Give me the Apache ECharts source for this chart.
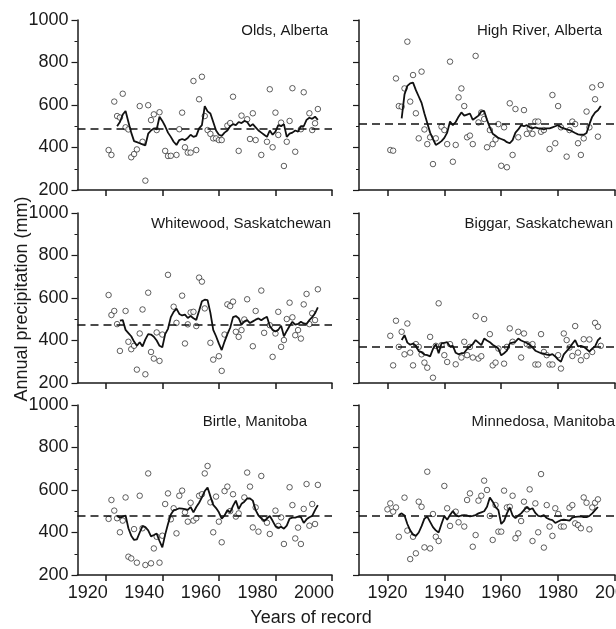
<!DOCTYPE html>
<html>
<head>
<meta charset="utf-8">
<script src="https://cdn.jsdelivr.net/npm/echarts@6/dist/echarts.min.js"></script>
<style>
  html, body { margin: 0; padding: 0; background: #fff; }
  #container { width: 616px; height: 629px; }
</style>
</head>
<body>
<div id="container"></div>
<script>
var dom = document.getElementById('container');
var myChart = echarts.init(dom, null, { renderer: 'canvas' });

// annual precipitation (mm), [year, value]
var oldsPts = [[1921,388],[1922,365],[1923,616],[1924,548],[1925,541],[1926,653],[1927,495],[1928,485],[1929,354],[1930,369],[1931,391],[1932,595],[1933,427],[1934,244],[1935,599],[1936,529],[1937,556],[1938,482],[1939,566],[1941,384],[1942,360],[1943,361],[1945,365],[1946,486],[1947,564],[1948,401],[1949,376],[1950,376],[1951,713],[1952,388],[1953,627],[1954,733],[1955,548],[1956,482],[1957,464],[1958,443],[1959,443],[1960,435],[1961,435],[1963,503],[1964,515],[1965,639],[1967,384],[1968,550],[1970,533],[1971,440],[1972,561],[1973,435],[1975,365],[1977,427],[1978,674],[1979,401],[1980,564],[1981,459],[1982,517],[1983,313],[1984,427],[1985,525],[1986,679],[1987,380],[1989,486],[1990,660],[1992,561],[1993,482],[1994,514],[1995,581]];
var highRiverPts = [[1921,388],[1922,385],[1923,725],[1924,595],[1925,592],[1926,678],[1927,898],[1928,616],[1929,741],[1930,561],[1931,443],[1932,757],[1933,485],[1934,416],[1935,448],[1936,322],[1937,443],[1939,498],[1940,482],[1941,416],[1942,804],[1943,333],[1944,412],[1945,636],[1946,678],[1947,595],[1948,448],[1949,456],[1950,416],[1951,831],[1952,518],[1953,565],[1954,534],[1955,401],[1956,482],[1957,416],[1958,438],[1959,510],[1960,314],[1961,495],[1962,307],[1963,608],[1964,365],[1965,581],[1966,448],[1968,576],[1969,464],[1970,490],[1971,464],[1972,522],[1973,522],[1974,474],[1975,482],[1977,393],[1978,647],[1979,420],[1980,595],[1981,495],[1983,357],[1984,482],[1985,522],[1986,510],[1987,420],[1988,365],[1989,443],[1990,569],[1991,495],[1992,683],[1993,627],[1994,451],[1995,694]];
var whitewoodPts = [[1921,614],[1922,520],[1923,539],[1924,477],[1925,351],[1927,539],[1928,394],[1929,359],[1930,375],[1931,263],[1932,433],[1933,546],[1934,241],[1935,625],[1936,346],[1937,315],[1938,438],[1939,304],[1940,428],[1942,709],[1944,559],[1945,483],[1947,611],[1948,386],[1949,476],[1950,532],[1951,535],[1952,468],[1953,696],[1954,677],[1955,551],[1957,389],[1958,310],[1960,326],[1961,257],[1962,428],[1963,570],[1964,562],[1965,583],[1966,441],[1967,417],[1968,449],[1969,499],[1970,594],[1972,373],[1973,539],[1975,635],[1976,436],[1978,472],[1979,323],[1980,433],[1981,535],[1982,370],[1983,402],[1984,501],[1985,578],[1986,509],[1987,425],[1988,449],[1989,409],[1990,570],[1991,619],[1992,477],[1993,528],[1994,496],[1995,641]];
var biggarPts = [[1921,422],[1922,283],[1923,493],[1924,370],[1925,441],[1926,335],[1927,480],[1928,343],[1929,283],[1930,383],[1931,370],[1932,335],[1933,296],[1934,272],[1935,417],[1936,225],[1937,375],[1938,575],[1939,378],[1940,331],[1941,299],[1942,383],[1944,288],[1946,320],[1947,394],[1948,331],[1949,370],[1950,320],[1951,515],[1952,315],[1953,326],[1954,501],[1956,430],[1957,283],[1958,296],[1959,362],[1961,291],[1962,370],[1963,457],[1964,394],[1966,441],[1967,320],[1968,433],[1969,383],[1970,375],[1971,383],[1972,287],[1973,287],[1974,430],[1975,346],[1976,331],[1977,287],[1978,287],[1980,331],[1981,268],[1982,433],[1983,402],[1984,367],[1985,327],[1986,468],[1987,343],[1988,307],[1989,406],[1990,327],[1991,405],[1992,346],[1993,483],[1994,465],[1995,375]];
var birtlePts = [[1921,464],[1922,553],[1923,503],[1924,467],[1925,401],[1926,456],[1927,565],[1928,286],[1929,278],[1930,416],[1931,258],[1932,573],[1933,420],[1934,247],[1935,678],[1936,255],[1937,325],[1938,380],[1939,258],[1940,385],[1941,534],[1942,584],[1943,462],[1944,514],[1945,396],[1946,573],[1947,597],[1948,495],[1949,451],[1950,540],[1951,456],[1952,467],[1953,573],[1954,580],[1955,678],[1956,713],[1957,542],[1958,401],[1959,569],[1960,451],[1961,354],[1962,595],[1963,616],[1964,501],[1965,580],[1966,475],[1967,490],[1969,565],[1970,682],[1971,616],[1972,424],[1973,518],[1974,404],[1975,666],[1976,464],[1977,446],[1978,393],[1980,503],[1981,431],[1982,471],[1983,346],[1985,613],[1986,529],[1987,372],[1988,423],[1989,346],[1990,511],[1991,628],[1992,432],[1993,534],[1994,440],[1995,624]];
var minnedosaPts = [[1920,509],[1921,537],[1922,498],[1923,518],[1924,380],[1926,564],[1927,409],[1928,275],[1929,380],[1930,302],[1931,545],[1932,521],[1933,330],[1934,686],[1935,325],[1936,487],[1937,380],[1938,360],[1940,619],[1941,514],[1942,431],[1944,498],[1945,448],[1947,428],[1948,553],[1949,584],[1950,333],[1951,388],[1952,550],[1953,573],[1954,644],[1955,600],[1956,478],[1957,365],[1958,529],[1959,404],[1960,404],[1961,597],[1962,518],[1963,521],[1964,573],[1965,373],[1966,396],[1967,454],[1968,545],[1969,509],[1970,603],[1971,360],[1972,537],[1973,401],[1974,675],[1975,329],[1976,529],[1977,428],[1978,384],[1979,514],[1980,487],[1981,428],[1982,428],[1984,517],[1985,529],[1986,443],[1987,435],[1988,420],[1989,565],[1990,540],[1991,415],[1992,518],[1993,540],[1994,556]];

// running means (solid line)
var oldsRun = [[1924,500],[1925,520],[1926,555],[1927,572],[1928,520],[1929,470],[1930,430],[1931,425],[1932,420],[1933,415],[1934,410],[1935,465],[1936,480],[1937,490],[1938,485],[1939,545],[1940,525],[1941,500],[1942,470],[1943,450],[1944,427],[1945,412],[1946,435],[1947,440],[1948,435],[1949,445],[1950,460],[1951,450],[1952,455],[1953,490],[1954,505],[1955,595],[1956,570],[1957,560],[1958,520],[1959,480],[1960,460],[1961,455],[1962,470],[1963,480],[1964,500],[1965,510],[1966,505],[1967,520],[1968,515],[1969,525],[1970,520],[1971,500],[1972,510],[1973,495],[1974,480],[1975,470],[1976,460],[1977,450],[1978,480],[1979,460],[1980,475],[1981,505],[1982,500],[1983,510],[1984,450],[1985,465],[1986,470],[1987,480],[1988,475],[1989,500],[1990,500],[1991,530],[1992,540],[1993,535],[1994,545],[1995,530]];
var highRiverRun = [[1925,537],[1926,650],[1927,690],[1928,702],[1929,705],[1930,670],[1931,640],[1932,610],[1933,560],[1934,515],[1935,470],[1936,440],[1937,412],[1938,420],[1939,430],[1940,445],[1941,470],[1942,522],[1943,505],[1944,520],[1945,545],[1946,565],[1947,550],[1948,555],[1949,560],[1950,530],[1951,540],[1952,550],[1953,570],[1954,572],[1955,530],[1956,495],[1957,465],[1958,455],[1959,445],[1960,440],[1961,435],[1962,425],[1963,420],[1964,435],[1965,470],[1966,485],[1967,505],[1968,500],[1969,505],[1970,495],[1971,490],[1972,495],[1973,490],[1974,490],[1975,485],[1976,490],[1977,490],[1978,495],[1979,500],[1980,505],[1981,495],[1982,490],[1983,485],[1984,482],[1985,475],[1986,468],[1987,462],[1988,460],[1989,460],[1990,468],[1991,510],[1992,545],[1993,565],[1994,575],[1995,595]];
var whitewoodRun = [[1925,493],[1926,496],[1927,450],[1928,435],[1929,420],[1930,395],[1931,375],[1932,392],[1933,372],[1934,405],[1935,430],[1936,428],[1937,418],[1938,400],[1939,375],[1940,368],[1941,430],[1942,455],[1943,510],[1944,535],[1945,550],[1946,525],[1947,518],[1948,522],[1949,506],[1950,515],[1951,505],[1952,497],[1953,540],[1954,585],[1955,592],[1956,590],[1957,530],[1958,450],[1959,420],[1960,385],[1961,355],[1962,395],[1963,430],[1964,460],[1965,510],[1966,515],[1967,505],[1968,475],[1969,490],[1970,496],[1971,482],[1972,490],[1973,498],[1974,504],[1975,495],[1976,505],[1977,512],[1978,468],[1979,450],[1980,442],[1981,450],[1982,470],[1983,420],[1984,445],[1985,468],[1986,488],[1987,475],[1988,478],[1989,488],[1990,480],[1991,478],[1992,496],[1993,510],[1994,528],[1995,556]];
var biggarRun = [[1925,402],[1926,425],[1927,390],[1928,380],[1929,386],[1930,375],[1931,350],[1932,345],[1933,334],[1934,331],[1935,325],[1936,360],[1937,383],[1938,340],[1939,386],[1940,389],[1941,392],[1942,372],[1943,375],[1944,342],[1945,335],[1946,340],[1947,342],[1948,360],[1949,372],[1950,383],[1951,402],[1952,390],[1953,378],[1954,409],[1955,400],[1956,392],[1957,380],[1958,372],[1959,362],[1960,330],[1961,340],[1962,352],[1963,386],[1964,390],[1965,394],[1966,409],[1967,400],[1968,394],[1969,388],[1970,380],[1971,368],[1972,352],[1973,346],[1974,340],[1975,338],[1976,334],[1977,331],[1978,336],[1979,325],[1980,310],[1981,300],[1982,335],[1983,350],[1984,365],[1985,385],[1986,402],[1987,372],[1988,375],[1989,370],[1990,360],[1991,348],[1992,362],[1993,372],[1994,402],[1995,414]];
var birtleRun = [[1924,478],[1925,470],[1926,475],[1927,480],[1928,420],[1929,385],[1930,365],[1931,368],[1932,400],[1933,430],[1934,425],[1935,410],[1936,382],[1937,388],[1938,395],[1939,360],[1940,330],[1941,390],[1942,440],[1943,485],[1944,505],[1945,508],[1946,514],[1947,512],[1948,510],[1949,506],[1950,520],[1951,495],[1952,520],[1953,540],[1954,565],[1955,595],[1956,612],[1957,570],[1958,530],[1959,515],[1960,495],[1961,465],[1962,480],[1963,505],[1964,495],[1965,525],[1966,550],[1967,510],[1968,535],[1969,545],[1970,560],[1971,560],[1972,550],[1973,505],[1974,480],[1975,467],[1976,455],[1977,465],[1978,478],[1979,455],[1980,430],[1981,422],[1982,427],[1983,418],[1984,432],[1985,465],[1986,470],[1987,470],[1988,475],[1989,472],[1990,445],[1991,462],[1992,472],[1993,478],[1994,505],[1995,529]];
var minnedosaRun = [[1924,482],[1925,490],[1926,480],[1927,440],[1928,410],[1929,390],[1930,384],[1931,400],[1932,430],[1933,465],[1934,475],[1935,450],[1936,425],[1937,410],[1938,400],[1939,440],[1940,478],[1941,460],[1942,482],[1943,501],[1944,482],[1945,476],[1946,480],[1947,482],[1948,480],[1949,476],[1950,478],[1951,482],[1952,490],[1953,495],[1954,500],[1955,521],[1956,565],[1957,545],[1958,520],[1959,505],[1960,440],[1961,455],[1962,490],[1963,518],[1964,480],[1965,468],[1966,480],[1967,490],[1968,505],[1969,520],[1970,508],[1971,514],[1972,492],[1973,478],[1974,476],[1975,482],[1976,468],[1977,462],[1978,458],[1979,445],[1980,452],[1981,458],[1982,460],[1983,458],[1984,456],[1985,470],[1986,474],[1987,475],[1988,476],[1989,472],[1990,472],[1991,478],[1992,490],[1993,505],[1994,520]];

// long-term means (dashed line)
var stationNames = ['Olds, Alberta', 'High River, Alberta', 'Whitewood, Saskatchewan', 'Biggar, Saskatchewan', 'Birtle, Manitoba', 'Minnedosa, Manitoba'];
var stationMeans = [490, 514, 476, 370, 479, 478];
var stationPts = [oldsPts, highRiverPts, whitewoodPts, biggarPts, birtlePts, minnedosaPts];
var stationRun = [oldsRun, highRiverRun, whitewoodRun, biggarRun, birtleRun, minnedosaRun];

var yearTicks = [1920, 1940, 1960, 1980, 2000];

var FONT = '"Liberation Sans", Arial, Helvetica, sans-serif';
var INK = '#1a1a1a';

// panel geometry
var colLeft = [77.5, 359];
var colWidth = [254.5, 256];
var rowTop = [20, 213, 405];
var panelH = 170;
// title anchor (right edge, middle y)
var titlePos = [[328, 31], [602, 31], [331, 224], [613, 224], [307, 422], [615, 422]];

function plain(v) {
    return String(v);
}

var grids = [], xAxes = [], yAxes = [], series = [], texts = [];

for (var i = 0; i < 6; i++) {
    var col = i % 2, row = Math.floor(i / 2);
    grids.push({
        left: colLeft[col], top: rowTop[row], width: colWidth[col], height: panelH,
        containLabel: false,
        outerBoundsMode: 'none'
    });

    xAxes.push({
        gridIndex: i,
        type: 'value',
        min: 1910,
        max: 2000,
        splitLine: { show: false },
        axisLine: { onZero: false, lineStyle: { color: INK, width: 1.5 } },
        axisTick: { show: true, length: 6, customValues: yearTicks, lineStyle: { color: INK, width: 1.5 } },
        axisLabel: {
            show: row === 2,
            customValues: yearTicks,
            formatter: plain,
            fontFamily: FONT,
            fontSize: 18,
            color: INK,
            margin: 9,
            // left panel labels sit left of their ticks in the original
            padding: col === 0 ? [0, 36, 0, 0] : 0
        }
    });

    yAxes.push({
        gridIndex: i,
        type: 'value',
        min: 200,
        max: 1000,
        interval: 200,
        splitLine: { show: false },
        axisLine: { show: true, lineStyle: { color: INK, width: 1.5 } },
        axisTick: { show: true, length: 6, lineStyle: { color: INK, width: 1.2 } },
        minorTick: { show: true, splitNumber: 2, length: 3, lineStyle: { color: INK, width: 1 } },
        axisLabel: {
            show: col === 0,
            formatter: plain,
            fontFamily: FONT,
            fontSize: 18,
            color: INK,
            margin: 9
        }
    });

    series.push({
        type: 'scatter',
        xAxisIndex: i,
        yAxisIndex: i,
        symbol: 'circle',
        symbolSize: 5.5,
        itemStyle: { color: '#fff', borderColor: '#222', borderWidth: 0.9 },
        data: stationPts[i]
    });

    series.push({
        type: 'line',
        xAxisIndex: i,
        yAxisIndex: i,
        showSymbol: false,
        lineStyle: { color: '#111', width: 1.8 },
        data: stationRun[i],
        markLine: {
            silent: true,
            symbol: ['none', 'none'],
            label: { show: false },
            lineStyle: { color: '#111', width: 1.6, type: [8, 5] },
            data: [{ yAxis: stationMeans[i] }]
        }
    });

    texts.push({
        type: 'text',
        style: {
            text: stationNames[i],
            x: titlePos[i][0],
            y: titlePos[i][1],
            align: 'right', textAlign: 'right',
            verticalAlign: 'middle', textVerticalAlign: 'middle',
            font: '15px ' + FONT,
            fill: INK
        }
    });
}

texts.push({
    type: 'text',
    x: 22, y: 299,
    rotation: Math.PI / 2,
    style: {
        text: 'Annual precipitation (mm)',
        x: 0, y: 0,
        align: 'center', textAlign: 'center',
        verticalAlign: 'middle', textVerticalAlign: 'middle',
        font: '18px ' + FONT,
        fill: INK
    }
});
texts.push({
    type: 'text',
    style: {
        text: 'Years of record',
        x: 311, y: 618,
        align: 'center', textAlign: 'center',
        verticalAlign: 'middle', textVerticalAlign: 'middle',
        font: '18px ' + FONT,
        fill: INK
    }
});

var option = {
    animation: false,
    backgroundColor: '#fff',
    grid: grids,
    xAxis: xAxes,
    yAxis: yAxes,
    series: series,
    graphic: texts
};

myChart.setOption(option);
window.addEventListener('resize', myChart.resize);
</script>
</body>
</html>
